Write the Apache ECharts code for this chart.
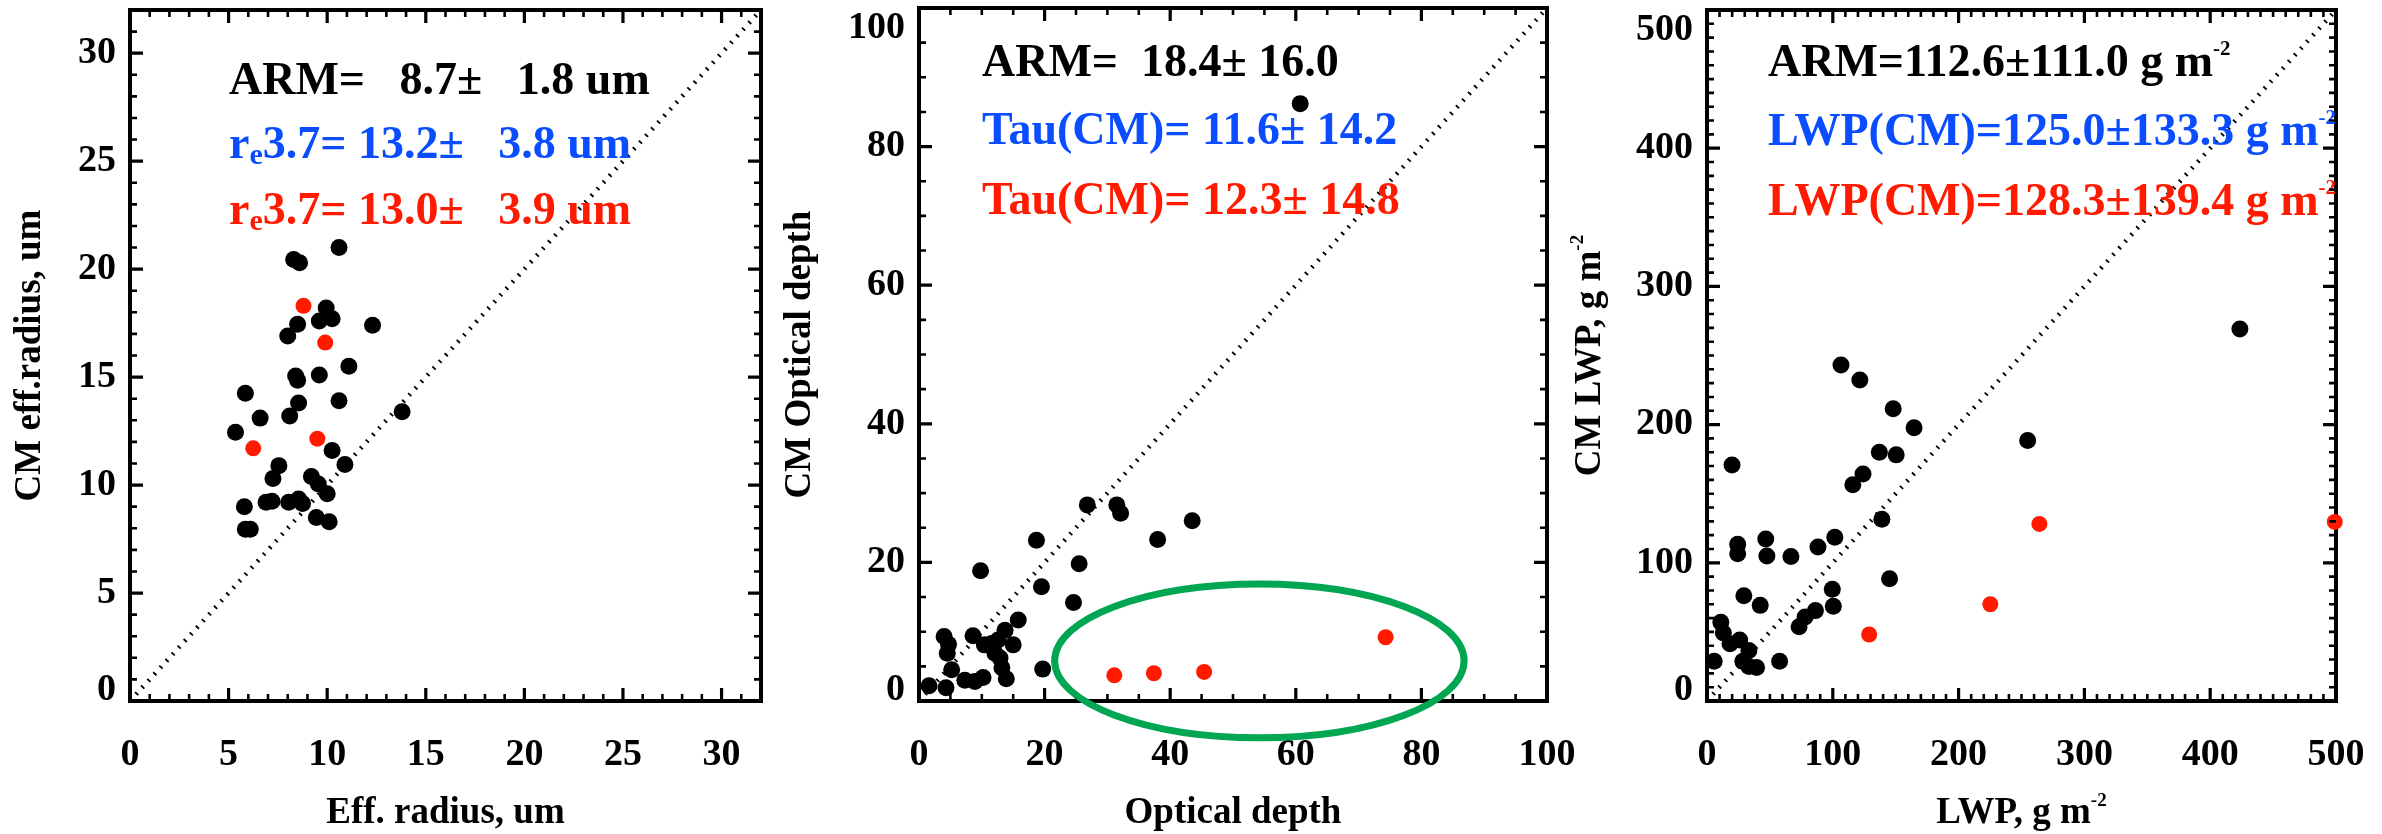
<!DOCTYPE html>
<html>
<head>
<meta charset="utf-8">
<script src="https://cdn.jsdelivr.net/npm/echarts@6/dist/echarts.min.js"></script>
<style>
  html, body { margin: 0; padding: 0; background: #ffffff; }
  #chart { width: 2382px; height: 834px; }
</style>
</head>
<body>
<div id="chart"></div>
<script>
// ---- Effective radius (um): ARM retrieval (x) vs. CM retrieval (y) ----
const radiusArm = [10.6, 8.3, 8.6, 9.95, 9.6, 10.25, 8.5, 8.0, 12.3, 11.1, 8.4, 8.5, 9.6, 5.85, 8.55,
  10.6, 8.1, 6.6, 13.8, 5.35, 10.25, 10.9, 7.55, 7.25, 9.2, 9.55, 10.0, 6.9, 7.2, 5.8, 8.05, 8.55,
  8.75, 9.45, 10.1, 5.85, 6.1];
const radiusCm = [21.0, 20.45, 20.3, 18.2, 17.6, 17.7, 17.45, 16.9, 17.4, 15.5, 15.05, 14.85, 15.1, 14.25, 13.8,
  13.9, 13.2, 13.1, 13.4, 12.45, 11.6, 10.95, 10.9, 10.3, 10.4, 10.05, 9.6, 9.2, 9.25, 9.0, 9.2, 9.35,
  9.15, 8.5, 8.3, 7.95, 7.95];
const radiusArmRed = [8.8, 9.9, 9.5, 6.25];
const radiusCmRed = [18.3, 16.6, 12.15, 11.7];

// ---- Optical depth: ARM (x) vs. CM (y) ----
const tauArm = [60.7, 26.8, 31.5, 32.1, 43.5, 38.0, 18.7, 9.8, 25.5, 19.5, 24.6, 15.8, 19.7,
  1.6, 4.3, 4.0, 4.7, 4.5, 5.2, 7.3, 8.9, 10.2, 8.6, 10.4, 11.6, 12.6, 13.7, 15.0, 12.9, 13.2, 13.9, 12.1];
const tauCm = [86.2, 28.3, 28.3, 27.1, 26.0, 23.3, 23.2, 18.8, 19.8, 16.5, 14.2, 11.7, 4.6,
  2.2, 1.9, 9.3, 8.2, 6.9, 4.5, 3.0, 2.8, 3.4, 9.4, 8.1, 8.3, 8.8, 10.2, 8.1, 6.2, 4.8, 3.2, 6.9];
const tauArmRed = [31.1, 37.4, 45.4, 74.3];
const tauCmRed = [3.7, 4.0, 4.2, 9.2];

// ---- Liquid water path (g m-2): ARM (x) vs. CM (y) ----
const lwpArm = [423.6, 254.9, 106.5, 121.5, 148.0, 164.6, 137.0, 150.4, 124.0, 115.9, 139.0, 19.9,
  24.4, 24.4, 46.7, 47.6, 66.7, 88.2, 101.6, 99.6, 100.4, 145.1, 29.3, 42.3, 86.2, 78.0, 73.2,
  11.0, 13.0, 18.3, 26.0, 33.3, 28.5, 33.3, 39.4, 5.7, 57.7];
const lwpCm = [269.2, 188.5, 243.1, 232.3, 211.5, 197.7, 180.0, 178.1, 164.2, 156.5, 131.5, 170.8,
  113.5, 106.5, 117.3, 105.0, 104.6, 111.5, 118.5, 80.8, 68.5, 88.5, 76.2, 69.2, 65.4, 60.8, 53.8,
  56.9, 49.2, 41.5, 44.2, 36.5, 28.8, 25.0, 24.2, 28.8, 28.8];
const lwpArmRed = [128.9, 225.2, 264.2, 499.0];
const lwpCmRed = [48.1, 70.0, 128.1, 129.6];

// Axis ranges: [min, max, major step, minor step]
const radiusRange = [0, 32, 5, 1];
const tauRange = [0, 100, 20, 5];
const lwpRange = [0, 500, 100, 10];

// Summary statistics written inside each panel (rich-text markup; \u00a0 keeps the padded widths)
const radiusNotes = [
  '{k|ARM=\u00a0\u00a0\u00a08.7±\u00a0\u00a0\u00a01.8 um}',
  '{b|r}{bsub|e}{b|3.7= 13.2±\u00a0\u00a0\u00a03.8 um}',
  '{r|r}{rsub|e}{r|3.7= 13.0±\u00a0\u00a0\u00a03.9 um}'
];
const tauNotes = ['{k|ARM=\u00a0\u00a018.4± 16.0}', '{b|Tau(CM)= 11.6± 14.2}', '{r|Tau(CM)= 12.3± 14.8}'];
const lwpNotes = ['{k|ARM=112.6±111.0 g m}{ksup|-2}', '{b|LWP(CM)=125.0±133.3 g m}{bsup|-2}', '{r|LWP(CM)=128.3±139.4 g m}{rsup|-2}'];

// Outlier region highlighted on the optical-depth panel (data units)
const outlierCenter = [54.2, 5.8];
const outlierRadii = [32.6, 11.1];

const FONT = '"Liberation Serif", "Times New Roman", serif';
const BLUE = '#0a4dff';
const RED = '#ff1a00';
const GREEN = '#00a651';

const grids = [
  { left: 130, top: 10, width: 631, height: 691 },
  { left: 919, top: 8, width: 628, height: 693 },
  { left: 1707, top: 10, width: 629, height: 691 }
];

// Tick mark sizes in pixels
const MAJOR_TICK = { len: 13, width: 3.2 };
const MINOR_TICK = { len: 7, width: 2.6 };

const labelFont = { fontFamily: FONT, fontWeight: 'bold', fontSize: 38, color: '#000' };
const nameFont = { fontFamily: FONT, fontWeight: 'bold', fontSize: 37, color: '#000', lineHeight: 42 };

function nameRich() {
  return {
    n: Object.assign({}, nameFont),
    s: { fontFamily: FONT, fontWeight: 'bold', fontSize: 19, color: '#000', lineHeight: 19, verticalAlign: 'top' }
  };
}

// One labelled value axis per side; the frame comes from the grid border
function axisFor(dim, gridIndex, range, name, nameGap) {
  const [min, max, major] = range;
  const formatter = (v) => {
    if (Math.abs(v / major - Math.round(v / major)) > 1e-9) return '';
    if (dim === 'y' && v === min) return '{lo|' + v + '}';
    if (dim === 'y' && v === max) return '{hi|' + v + '}';
    return String(v);
  };
  return {
    type: 'value', gridIndex, position: dim === 'x' ? 'bottom' : 'left',
    min, max, interval: major,
    splitLine: { show: false },
    axisLine: { show: false, onZero: false },
    axisTick: { show: false },
    axisLabel: Object.assign({
      show: true, margin: dim === 'x' ? 35 : 14, formatter,
      rich: {
        lo: Object.assign({ padding: [0, 0, 22, 0] }, labelFont),
        hi: Object.assign({ padding: [40, 0, 0, 0] }, labelFont)
      }
    }, labelFont),
    name, nameLocation: 'middle', nameGap, nameMoveOverlap: false,
    nameTextStyle: Object.assign({ rich: nameRich() }, nameFont)
  };
}

const xAxes = [
  axisFor('x', 0, radiusRange, '{n|Eff. radius, um}', 91),
  axisFor('x', 1, tauRange, '{n|Optical depth}', 91),
  axisFor('x', 2, lwpRange, '{n|LWP, g m}{s|-2}', 91)
];
const yAxes = [
  axisFor('y', 0, radiusRange, '{n|CM eff.radius, um}', 79),
  axisFor('y', 1, tauRange, '{n|CM Optical depth}', 98),
  axisFor('y', 2, lwpRange, '{n|CM LWP, g m}{s|-2}', 96)
];

function pairs(xs, ys) { return xs.map((x, i) => [x, ys[i]]); }

// Inward tick segments on all four sides, as broken polylines in data units.
// Tick length is given in pixels and turned into data units with the panel scale.
function tickSegments(gridIndex, range, wantMajor, lenPx) {
  const [min, max, major, minor] = range;
  const g = grids[gridIndex];
  const dx = lenPx * (max - min) / g.width;
  const dy = lenPx * (max - min) / g.height;
  const segs = [];
  const n = Math.round((max - min) / minor);
  for (let i = 1; i < n; i++) {
    const v = min + i * minor;
    const isMajor = Math.abs(v / major - Math.round(v / major)) < 1e-9;
    if (isMajor !== wantMajor) continue;
    segs.push([v, min], [v, min + dy], null);
    segs.push([v, max], [v, max - dy], null);
    segs.push([min, v], [min + dx, v], null);
    segs.push([max, v], [max - dx, v], null);
  }
  return segs;
}

function tickSeries(gridIndex, range) {
  const common = {
    type: 'line', xAxisIndex: gridIndex, yAxisIndex: gridIndex, silent: true,
    symbol: 'none', z: 6, clip: false, connectNulls: false, animation: false
  };
  return [
    Object.assign({}, common, {
      data: tickSegments(gridIndex, range, true, MAJOR_TICK.len),
      lineStyle: { color: '#000', width: MAJOR_TICK.width, cap: 'butt' }
    }),
    Object.assign({}, common, {
      data: tickSegments(gridIndex, range, false, MINOR_TICK.len),
      lineStyle: { color: '#000', width: MINOR_TICK.width, cap: 'butt' }
    })
  ];
}

function panelSeries(gridIndex, range, xs, ys, xr, yr) {
  return [
    {
      type: 'line', xAxisIndex: gridIndex, yAxisIndex: gridIndex, silent: true, symbol: 'none', z: 1,
      data: [[range[0], range[0]], [range[1], range[1]]],
      lineStyle: { color: '#000', width: 4.5, type: [1.8, 7.2], cap: 'butt' }
    },
    {
      type: 'scatter', xAxisIndex: gridIndex, yAxisIndex: gridIndex, symbol: 'circle', symbolSize: 17, z: 3,
      itemStyle: { color: '#000', opacity: 1 }, data: pairs(xs, ys)
    },
    {
      type: 'scatter', xAxisIndex: gridIndex, yAxisIndex: gridIndex, symbol: 'circle', symbolSize: 16, z: 4,
      itemStyle: { color: RED, opacity: 1 }, data: pairs(xr, yr)
    }
  ].concat(tickSeries(gridIndex, range));
}

const big = { fontFamily: FONT, fontWeight: 'bold', fontSize: 46, lineHeight: 50 };
const noteRich = {
  k: Object.assign({ color: '#000' }, big),
  b: Object.assign({ color: BLUE }, big),
  r: Object.assign({ color: RED }, big),
  bsub: { fontFamily: FONT, fontWeight: 'bold', fontSize: 30, lineHeight: 24, color: BLUE, verticalAlign: 'bottom' },
  rsub: { fontFamily: FONT, fontWeight: 'bold', fontSize: 30, lineHeight: 24, color: RED, verticalAlign: 'bottom' },
  ksup: { fontFamily: FONT, fontWeight: 'bold', fontSize: 21, lineHeight: 21, color: '#000', verticalAlign: 'top' },
  bsup: { fontFamily: FONT, fontWeight: 'bold', fontSize: 21, lineHeight: 21, color: BLUE, verticalAlign: 'top' },
  rsup: { fontFamily: FONT, fontWeight: 'bold', fontSize: 21, lineHeight: 21, color: RED, verticalAlign: 'top' }
};

function notes(lines, left, tops) {
  return lines.map((t, i) => ({
    text: t, left: left, top: tops[i], padding: 0, itemGap: 0,
    textStyle: { rich: noteRich, fontFamily: FONT, fontWeight: 'bold', fontSize: 46 }
  }));
}

const chart = echarts.init(document.getElementById('chart'), null, { renderer: 'canvas' });

chart.setOption({
  animation: false,
  backgroundColor: '#ffffff',
  grid: grids.map(g => Object.assign({
    containLabel: false, outerBoundsMode: 'none',
    show: true, borderColor: '#000', borderWidth: 4, backgroundColor: 'transparent'
  }, g)),
  xAxis: xAxes,
  yAxis: yAxes,
  title: [].concat(
    notes(radiusNotes, 229, [57, 121, 187]),
    notes(tauNotes, 982, [39, 107, 177]),
    notes(lwpNotes, 1768, [39, 108, 178])
  ),
  series: [].concat(
    panelSeries(0, radiusRange, radiusArm, radiusCm, radiusArmRed, radiusCmRed),
    panelSeries(1, tauRange, tauArm, tauCm, tauArmRed, tauCmRed),
    panelSeries(2, lwpRange, lwpArm, lwpCm, lwpArmRed, lwpCmRed)
  )
});

// Ellipse around the outliers, placed through the optical-depth axes
const c = chart.convertToPixel({ xAxisIndex: 1, yAxisIndex: 1 }, outlierCenter);
const e = chart.convertToPixel({ xAxisIndex: 1, yAxisIndex: 1 },
  [outlierCenter[0] + outlierRadii[0], outlierCenter[1] + outlierRadii[1]]);

chart.setOption({
  graphic: [{
    type: 'ellipse', z: 100, silent: true,
    shape: { cx: c[0], cy: c[1], rx: Math.abs(e[0] - c[0]), ry: Math.abs(c[1] - e[1]) },
    style: { fill: 'none', stroke: GREEN, lineWidth: 7 }
  }]
});
</script>
</body>
</html>
